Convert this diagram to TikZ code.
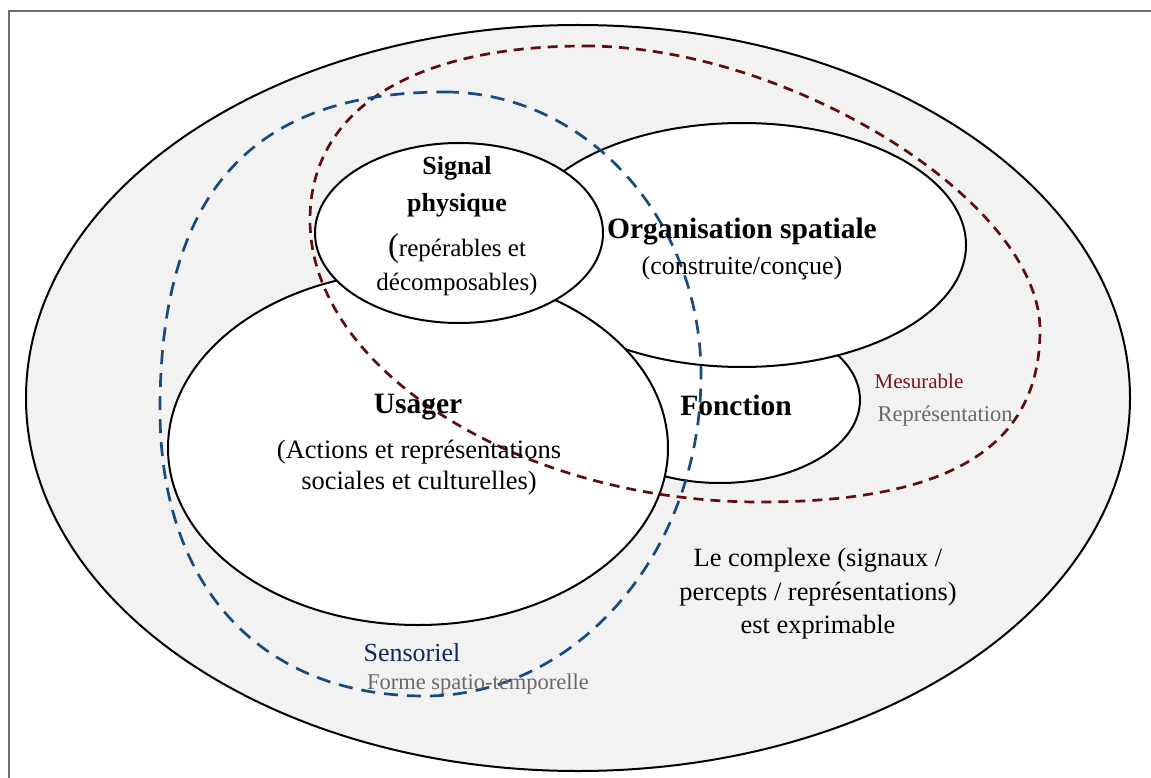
\documentclass[tikz,border=0pt]{standalone}
\usepackage{fontspec}
\setmainfont{Liberation Serif}
\definecolor{fillgray}{RGB}{242,242,242}
\definecolor{dred}{RGB}{96,12,16}
\definecolor{dblue}{RGB}{24,74,128}
\definecolor{txtred}{RGB}{122,20,24}
\definecolor{txtblue}{RGB}{16,40,96}
\definecolor{txtgray}{RGB}{105,105,105}
\definecolor{framegray}{RGB}{110,110,110}
\begin{document}
\begin{tikzpicture}[x=1pt,y=-1pt,
  solidell/.style={draw=black, line width=2pt, fill=white},
  outerell/.style={draw=black, line width=2pt, fill=fillgray},
  reddash/.style={draw=dred, line width=2.7pt, dash pattern=on 10pt off 7pt},
  bluedash/.style={draw=dblue, line width=2.7pt, dash pattern=on 14pt off 9pt},
  lbl/.style={inner sep=0pt, align=center},
  titlefont/.style={font=\bfseries\fontsize{29.5}{36}\selectfont},
  bodyfont/.style={font=\fontsize{26}{31}\selectfont},
]
\useasboundingbox (0,0) rectangle (1151,778);
\fill[white] (0,0) rectangle (1151,778);
% frame
\draw[framegray, line width=1.5pt] (9,800) -- (9,11) -- (1170,11);
% outer ellipse
\draw[outerell] (578,398) ellipse [x radius=552, y radius=373];
% inner solid ellipses (back to front)
\draw[solidell] (720,400) ellipse [x radius=140, y radius=83];
\draw[solidell] (742,245) ellipse [x radius=224, y radius=122];
\draw[solidell] (418,448) ellipse [x radius=250, y radius=177];
\draw[solidell] (459,233) ellipse [x radius=144, y radius=90];
% dashed outlines
\draw[reddash] (585,46)
  .. controls (790,46) and (1040,202) .. (1040,330)
  .. controls (1040,447) and (950,502) .. (760,502)
  .. controls (521,502) and (310,370) .. (310,220)
  .. controls (310,110) and (412,46) .. (585,46) -- cycle;
\draw[bluedash] (445,92)
  .. controls (586,92) and (701,219) .. (701,375)
  .. controls (701,552) and (577,696) .. (425,696)
  .. controls (261,696) and (160,587) .. (160,410)
  .. controls (160,194) and (251,92) .. (445,92) -- cycle;
% texts
\node[lbl, font=\bfseries\fontsize{26}{37}\selectfont] (sigT) at (457,187) {Signal\\physique};
\node[lbl, font=\fontsize{25}{34}\selectfont] (sigS) at (457,265)
  {{\fontsize{33}{34}\selectfont(}repérables et\\décomposables)};
\node[lbl, titlefont] (orgT) at (742,232) {Organisation spatiale};
\node[lbl, bodyfont] (orgS) at (742,268) {(construite/conçue)};
\node[lbl, titlefont] (usaT) at (418,407) {Usager};
\node[lbl, font=\fontsize{26.5}{31}\selectfont] (usaS) at (419,468)
  {(Actions et représentations\\sociales et culturelles)};
\node[lbl, titlefont] (fonT) at (736,405) {Fonction};
\node[lbl, text=txtred, font=\fontsize{21}{25}\selectfont] (mes) at (919,381) {Mesurable};
\node[lbl, text=txtgray, font=\fontsize{22.5}{26}\selectfont] (rep) at (945,416) {Représentation};
\node[lbl, text=txtblue, font=\fontsize{26}{30}\selectfont] (sens) at (412,653) {Sensoriel};
\node[lbl, text=txtgray, font=\fontsize{22.5}{26}\selectfont] (forme) at (478,684) {Forme spatio-temporelle};
\node[lbl, font=\fontsize{26.4}{33.5}\selectfont] (cplx) at (818,594)
  {Le complexe (signaux /\\percepts / représentations)\\est exprimable};
\end{tikzpicture}
\end{document}
